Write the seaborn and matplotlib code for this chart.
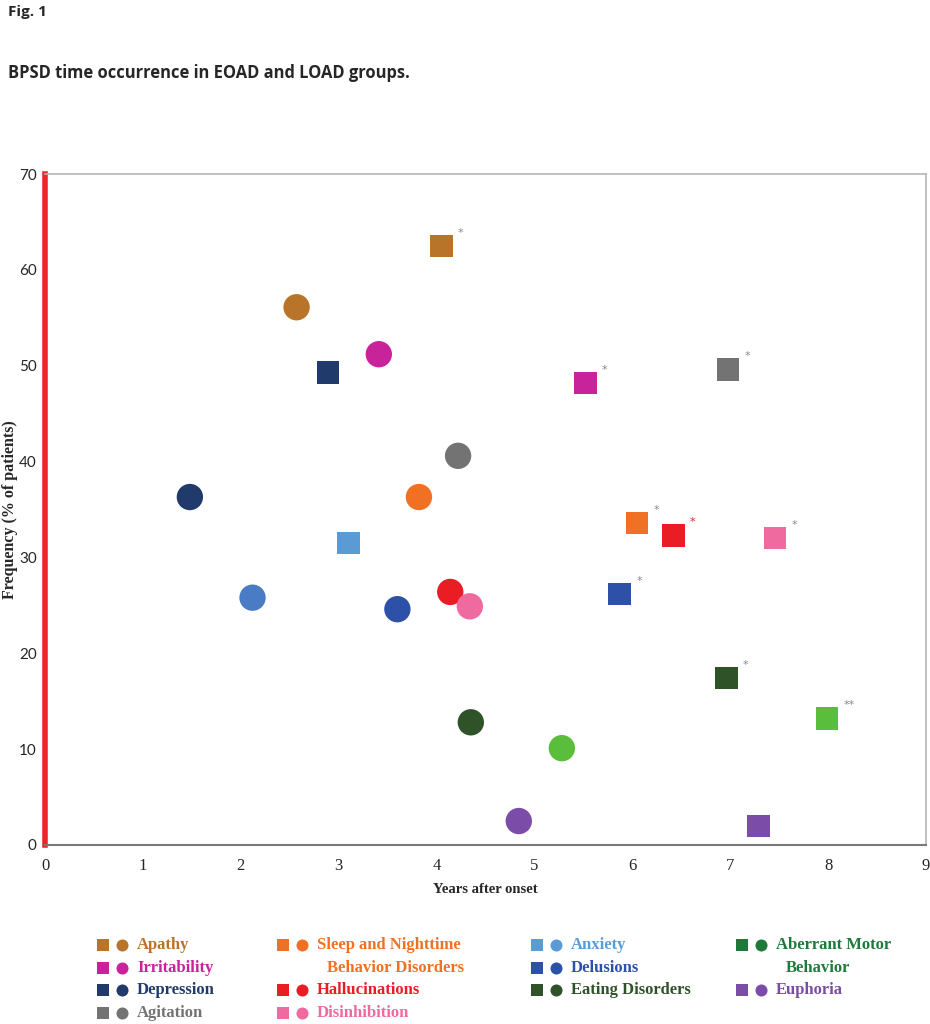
import pandas as pd
import matplotlib
matplotlib.use("Agg")
import matplotlib.pyplot as plt
import seaborn as sns

# data: circles = EOAD, squares = LOAD
symptoms = ["Apathy", "Irritability", "Depression", "Agitation",
            "Sleep and Nighttime Behavior Disorders", "Hallucinations", "Disinhibition",
            "Anxiety", "Delusions", "Eating Disorders", "Aberrant Motor Behavior", "Euphoria"]
eoad_years = [2.57, 3.41, 1.48, 4.22, 3.82, 4.14, 4.34, 2.12, 3.60, 4.35, 5.28, 4.84]
eoad_freq = [56.1, 51.2, 36.3, 40.6, 36.3, 26.4, 24.9, 25.8, 24.6, 12.8, 10.1, 2.5]
load_years = [4.05, 5.52, 2.89, 6.98, 6.05, 6.42, 7.46, 3.10, 5.87, 6.96, 7.99, 7.29]
load_freq = [62.5, 48.2, 49.3, 49.6, 33.6, 32.3, 32.0, 31.5, 26.2, 17.4, 13.2, 2.0]
load_sig = ["*", "*", "", "*", "*", "*", "*", "", "*", "*", "**", ""]

colors = ["#b8752a", "#c8239a", "#1f3a6b", "#737373", "#f07024", "#ea1c24",
          "#ef6a9e", "#5b9bd5", "#2d50a8", "#2f5228", "#5bbd3c", "#7b4ca8"]
eoad_colors = list(colors)
eoad_colors[7] = "#4a7cc6"
legend_colors = list(colors)
legend_colors[10] = "#1e7a3a"

legend_labels = ["Apathy", "Irritability", "Depression", "Agitation",
                 "Sleep and Nighttime\nBehavior Disorders", "Hallucinations", "Disinhibition",
                 "Anxiety", "Delusions", "Eating Disorders", "Aberrant Motor\nBehavior", "Euphoria"]

df = pd.concat([
    pd.DataFrame({"symptom": symptoms, "years": eoad_years, "freq": eoad_freq, "group": "EOAD"}),
    pd.DataFrame({"symptom": symptoms, "years": load_years, "freq": load_freq, "group": "LOAD"}),
])

sns.set_style("white")

W, H = 930, 1024
fig = plt.figure(figsize=(W / 100, H / 100), dpi=100)
ax = fig.add_axes([45 / W, 1 - 845 / H, (926 - 45) / W, (845 - 174) / H])

eo = df[df.group == "EOAD"]
lo = df[df.group == "LOAD"]
sns.scatterplot(data=eo, x="years", y="freq", hue="symptom", palette=dict(zip(symptoms, eoad_colors)),
                marker="o", s=360, linewidth=0, legend=False, ax=ax)
sns.scatterplot(data=lo, x="years", y="freq", hue="symptom", palette=dict(zip(symptoms, colors)),
                marker="s", s=260, linewidth=0, legend=False, ax=ax)

for x, y, star, c in zip(load_years, load_freq, load_sig, colors):
    if star:
        ax.annotate(star, (x, y), xytext=(12, 6), textcoords="offset points",
                    fontsize=8, color="#888888" if c != "#ea1c24" else c, va="bottom", ha="left")

ax.set_xlim(0, 9)
ax.set_ylim(0, 70)
ax.set_xticks(range(0, 10))
ax.set_yticks(range(0, 80, 10))
ax.set_xticklabels([str(i) for i in range(10)], fontfamily="Liberation Serif", fontsize=12)
ax.set_yticklabels([str(i) for i in range(0, 80, 10)], fontfamily="Lato", fontsize=11)
ax.tick_params(axis="x", direction="out", length=4, color="#808080", pad=5)
ax.tick_params(axis="y", direction="out", length=3, color="#808080", pad=3)

for side in ["top", "right"]:
    ax.spines[side].set_color("#b5b5b5")
    ax.spines[side].set_linewidth(1.2)
ax.spines["bottom"].set_color("#7a7a7a")
ax.spines["bottom"].set_linewidth(1.5)
ax.spines["left"].set_color("#e8262b")
ax.spines["left"].set_linewidth(4)

ax.set_xlabel("Years after onset", fontfamily="Liberation Serif", fontweight="bold", fontsize=10.5, labelpad=7)
ax.set_ylabel("Frequency (% of patients)", fontfamily="Liberation Serif",
              fontweight="bold", fontsize=11.5)
ax.yaxis.set_label_coords(-27 / 881, 0.5)

fig.text(8 / W, 1 - 12 / H, "Fig. 1", fontfamily="Open Sans", fontweight="bold", fontsize=11, va="center")
fig.text(8 / W, 1 - 73 / H, "BPSD time occurrence in EOAD and LOAD groups.",
         fontfamily="Open Sans", fontweight="bold", fontsize=11.9, va="center")

# custom legend below the plot
lax = fig.add_axes([0, 0, 1, 1], facecolor="none")
lax.set_xlim(0, W)
lax.set_ylim(H, 0)
lax.axis("off")
col_x = [103, 283, 537, 742]
row_y = [945, 967.5, 990, 1013]
slots = [(0, 0), (0, 1), (0, 2), (0, 3), (1, 0), (1, 2), (1, 3),
         (2, 0), (2, 1), (2, 2), (3, 0), (3, 2)]
for (ci, ri), lab, c in zip(slots, legend_labels, legend_colors):
    x0, y0 = col_x[ci], row_y[ri]
    lax.scatter([x0], [y0], marker="s", s=65, color=c, linewidth=0)
    lax.scatter([x0 + 19], [y0], marker="o", s=75, color=c, linewidth=0)
    for k, line in enumerate(lab.split("\n")):
        lax.text(x0 + 34 + (10 if k else 0), row_y[ri + k], line, color=c,
                 fontfamily="Liberation Serif", fontweight="bold", fontsize=12,
                 va="center", ha="left")

fig.savefig("out.png", dpi=100)
